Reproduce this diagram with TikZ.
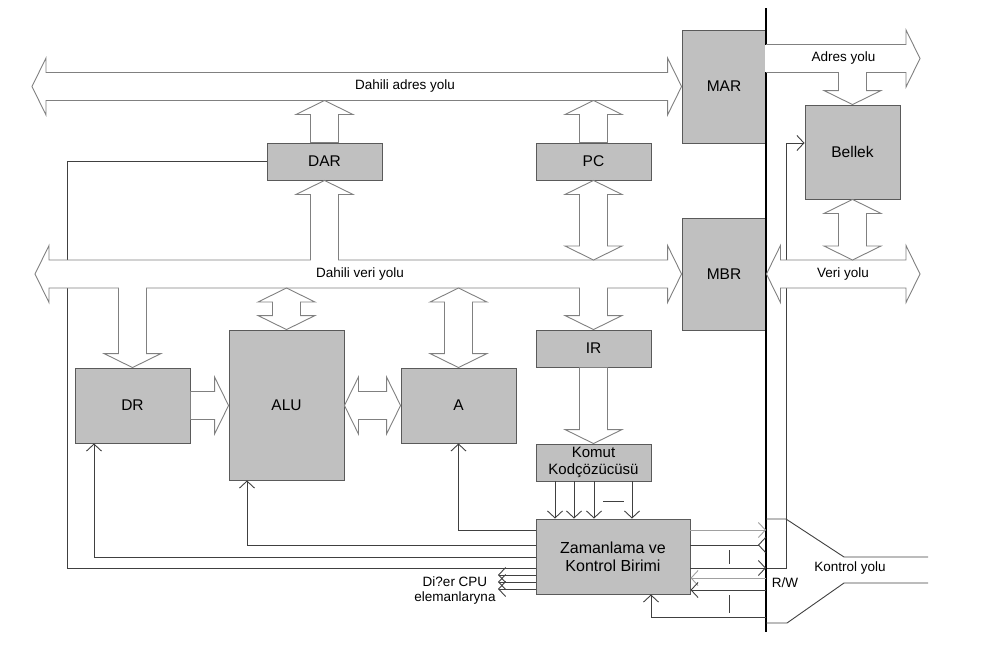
\documentclass[tikz,border=0pt]{standalone}
\usepackage{fontspec}
\setmainfont{Liberation Sans}
\usetikzlibrary{arrows.meta,positioning,calc}
\definecolor{regfill}{HTML}{C0C0C0}
\definecolor{regline}{HTML}{5A5A5A}
\definecolor{busline}{HTML}{808080}
\definecolor{wiredark}{HTML}{404040}
\definecolor{wirelight}{HTML}{A0A0A0}
\tikzset{reg/.style={draw=regline,fill=regfill,line width=.9pt,inner sep=0pt,align=center,font=\fontsize{15.5}{18}\selectfont}, fat/.style={draw=busline,fill=white,line width=.9pt}, wire/.style={draw=wiredark,line width=.9pt}, sig/.style={wire,-{Straight Barb[length=7pt,width=15pt]}}, lbl/.style={font=\fontsize{13.5}{15}\selectfont,inner sep=0pt,align=center}}
% fat bus arrows: head at the end only / heads at both ends
\newcommand\busone[2]{%
  \path (#1) coordinate (ba) (#2) coordinate (bb);
  \path ($(bb)!14pt!(ba)$) coordinate (bb1);
  \draw[fat] ($(ba)!14pt!90:(bb)$) -- ($(bb1)!14pt!-90:(ba)$) -- ($(bb1)!28.5pt!-90:(ba)$) -- (bb)
    -- ($(bb1)!28.5pt!90:(ba)$) -- ($(bb1)!14pt!90:(ba)$) -- ($(ba)!14pt!-90:(bb)$) -- cycle;}
\newcommand\bustwo[2]{%
  \path (#1) coordinate (ba) (#2) coordinate (bb);
  \path ($(ba)!14pt!(bb)$) coordinate (ba1) ($(bb)!14pt!(ba)$) coordinate (bb1);
  \draw[fat] (ba) -- ($(ba1)!28.5pt!90:(bb)$) -- ($(ba1)!14pt!90:(bb)$) -- ($(bb1)!14pt!-90:(ba)$)
    -- ($(bb1)!28.5pt!-90:(ba)$) -- (bb) -- ($(bb1)!28.5pt!90:(ba)$) -- ($(bb1)!14pt!90:(ba)$)
    -- ($(ba1)!14pt!-90:(bb)$) -- ($(ba1)!28.5pt!-90:(bb)$) -- cycle;}
\newcommand\joint[1]{\fill[white] ($(#1)+(-13.3,-1.6)$) rectangle ($(#1)+(13.3,1.6)$);}

\begin{document}
\begin{tikzpicture}[x=1pt,y=-1pt]
\useasboundingbox (0,0) rectangle (990,648);
% registers
\node[reg,minimum width=84pt,minimum height=113pt] (mar) at (724,86.5) {MAR};
\node[reg,minimum width=84pt,minimum height=112pt] (mbr) at (724,274) {MBR};
\node[reg,minimum width=95pt,minimum height=94pt] (bellek) at (852.5,152) {Bellek};
\node[reg,minimum width=115pt,minimum height=37pt] (dar) at (324.5,161.5) {DAR};
\node[reg,minimum width=115pt,minimum height=37pt] (pc) at (593.5,161.5) {PC};
\node[reg,minimum width=115pt,minimum height=75pt] (dr) at (132.5,405.5) {DR};
\node[reg,minimum width=115pt,minimum height=150pt] (alu) at (286.5,405) {ALU};
\node[reg,minimum width=115pt,minimum height=75pt] (areg) at (458.5,405.5) {A};
\node[reg,minimum width=115pt,minimum height=37pt] (ir) at (593.5,348.5) {IR};
\node[reg,minimum width=115pt,minimum height=37pt,font=\fontsize{15}{17.5}\selectfont] (komut) at (593.5,462.5) {Komut\\Kodçözücüsü};
\node[reg,minimum width=154pt,minimum height=75pt,font=\fontsize{16}{18}\selectfont] (zk) at (613,556.5) {Zamanlama ve\\Kontrol Birimi};
% bus ends
\coordinate (adrL) at (32,86.5);
\coordinate (adrS) at (32,100.5);
\coordinate (veriL) at (35,274);
\coordinate (veriN) at (35,260);
\coordinate (veriS) at (35,288);
\coordinate (adrR) at (920,58.5);
\coordinate (adrRS) at (920,72.5);
\coordinate (veriR) at (920,274);
\coordinate (busT) at (766,8);
\coordinate (busB) at (766,632);
% lines running under the buses
\coordinate (cDAR) at (67,568);
\draw[wire] (dar.west) -| (cDAR) -- (cDAR -| zk.west);
\coordinate (cBel) at (786,568);
\draw[sig] (busB |- cBel) -- (cBel) |- ($(bellek.west)+(0,-9)$);
\draw[line width=2.5pt] (busT) -- (busB);
% stems into the buses
\busone{dar.south |- veriL}{dar.south}
\busone{dr.north |- veriL}{dr.north}
\busone{ir.north |- veriL}{ir.north}
\busone{bellek.north |- adrR}{bellek.north}
% buses
\bustwo{adrL}{mar.west}
\bustwo{veriL}{mbr.west}
\busone{mar.east |- adrR}{adrR}
\bustwo{mbr.east}{veriR}
\joint{dar.south |- veriN}
\joint{dr.north |- veriS}
\joint{ir.north |- veriS}
\joint{bellek.north |- adrRS}
\fill[white] ($(mar.east |- adrR)+(-1.8,-13.3)$) rectangle ($(mar.east |- adrR)+(1.8,13.3)$);
% register transfers
\busone{dar.north}{dar.north |- adrS}
\busone{pc.north}{pc.north |- adrS}
\bustwo{pc.south}{pc.south |- veriN}
\bustwo{alu.north |- veriS}{alu.north}
\bustwo{areg.north |- veriS}{areg.north}
\busone{ir.south}{komut.north}
\busone{dr.east}{dr.east -| alu.west}
\bustwo{alu.east |- areg.west}{areg.west}
\bustwo{bellek.south}{bellek.south |- veriN}
% bus labels
\node[lbl] (adrlbl) at (405,86) {Dahili adres yolu};
\node[lbl] (verilbl) at (360,274) {Dahili veri yolu};
\node[lbl] (adrylbl) at (843.5,58) {Adres yolu};
\node[lbl] (veriylbl) at (843,274) {Veri yolu};
\node[lbl] (kontlbl) at (850,568) {Kontrol yolu};
\node[lbl] (rwlbl) at (785,583) {R/W};
\node[lbl] (cpulbl) at (455,591) {Di?er CPU\\elemanlaryna};
% control signals
\coordinate (cA) at (459,530);
\coordinate (cALU) at (247,545);
\coordinate (cDR) at (94,557);
\draw[sig] (zk.west |- cA) -| (areg.south);
\draw[sig] (zk.west |- cALU) -| (cALU |- alu.south);
\draw[sig] (zk.west |- cDR) -| (cDR |- dr.south);
\foreach \y in {575,582,589} \draw[sig] (zk.west |- 0,\y) -- (498,\y);
\foreach \x in {555,574,594,632} \draw[sig] (komut.south -| \x,0) -- (zk.north -| \x,0);
\draw[wire] (603,501) -- (624,501);
\coordinate (r1) at (766,530);
\coordinate (r2) at (766,545);
\coordinate (r3) at (766,568);
\coordinate (r4) at (766,578);
\coordinate (r5) at (766,590);
\coordinate (r6) at (766,617);
\draw[sig,draw=wirelight] (zk.east |- r1) -- (r1);
\draw[wire,-{Straight Barb[length=7pt,width=15pt,reversed]}] (zk.east |- r2) -- (r2);
\draw[wire] (729,550) -- (729,564);
\draw[sig] (zk.east |- r3) -- (r3);
\draw[sig,draw=wirelight] (r4) -- (zk.east |- r4);
\draw[sig] (r5) -- (zk.east |- r5);
\draw[wire] (729,595) -- (729,613);
\draw[sig] (r6) -| ($(zk.south)+(38,0)$);
% control bus
\draw[wire] (busB |- 0,519) -- (786,519) -- (844,557) -- (928,557);
\draw[wire] (busB |- 0,623) -- (787,623) -- (844,583) -- (928,583);
\end{tikzpicture}
\end{document}
